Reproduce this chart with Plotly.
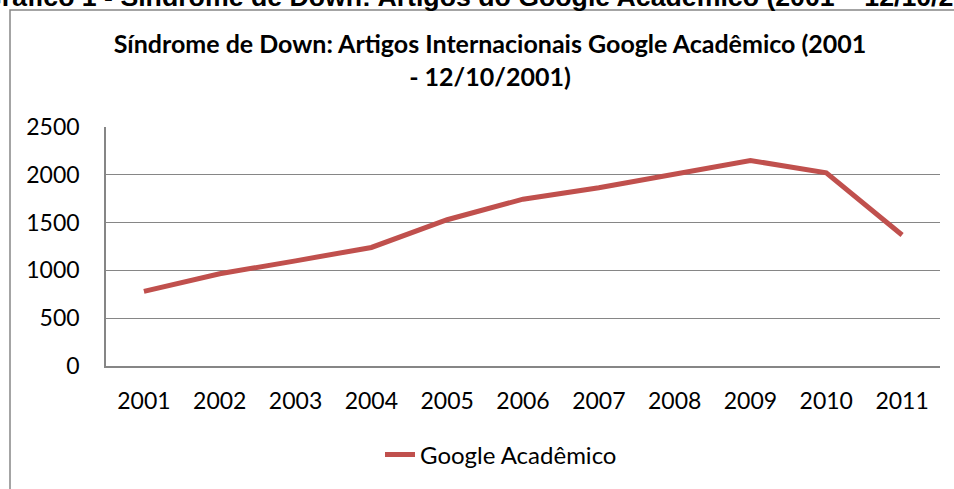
import plotly.graph_objects as go

years = ["2001", "2002", "2003", "2004", "2005", "2006", "2007", "2008", "2009", "2010", "2011"]
artigos = [780, 965, 1100, 1240, 1530, 1745, 1865, 2005, 2150, 2020, 1370]
y_ticks = [0, 500, 1000, 1500, 2000, 2500]

W, H = 954, 489
ML, MR, MT, MB = 106, 14, 127, 123
PW = W - ML - MR
PH = H - MT - MB

def px(x):
    return (x - ML) / PW

def py(y):
    return 1 - (y - MT) / PH

FONT = "Lato"
GRID = "#868686"

fig = go.Figure()
fig.add_trace(go.Scatter(
    x=years, y=artigos, mode="lines", name="Google Acadêmico",
    line=dict(color="#C0504D", width=5),
))

fig.update_layout(
    width=W, height=H,
    margin=dict(l=ML, r=MR, t=MT, b=MB),
    paper_bgcolor="white", plot_bgcolor="white",
    font=dict(family=FONT, size=23, color="black"),
    title=dict(
        text="<b>Síndrome de Down: Artigos Internacionais Google Acadêmico (2001<br>- 12/10/2001)</b>",
        x=490 / W, xref="container", xanchor="center",
        y=1 - 53 / H, yref="container", yanchor="top",
        font=dict(family=FONT, size=25, color="black"),
    ),
    xaxis=dict(
        type="category", range=[-0.5, 10.5],
        showgrid=False, showline=True, linecolor=GRID, linewidth=1.5,
        ticks="outside", ticklen=14, tickcolor="rgba(0,0,0,0)",
        tickfont=dict(family=FONT, size=23),
        zeroline=False,
    ),
    yaxis=dict(
        range=[0, 2500], tickvals=y_ticks,
        showgrid=True, gridcolor=GRID, gridwidth=1.3,
        showline=True, linecolor=GRID, linewidth=1.5,
        ticks="outside", ticklen=20, tickcolor="rgba(0,0,0,0)",
        tickfont=dict(family=FONT, size=23),
        zeroline=False,
    ),
    showlegend=True,
    legend=dict(
        orientation="h", x=px(380), xanchor="left",
        y=py(455), yanchor="middle",
        font=dict(family=FONT, size=24),
        bgcolor="rgba(0,0,0,0)",
    ),
)

# chart border (extends beyond the visible page on right and bottom)
fig.add_shape(type="rect", xref="paper", yref="paper",
              x0=px(10), x1=px(1000), y0=py(540), y1=py(10),
              line=dict(color=GRID, width=1.5), fillcolor="rgba(0,0,0,0)", layer="below")

# document caption above the chart, cut off by the page top
fig.add_annotation(
    text="<b>Gráfico 1 - Síndrome de Down: Artigos do Google Acadêmico (2001 – 12/10/2011)</b>",
    xref="paper", yref="paper", x=px(-21), y=py(14), xanchor="left", yanchor="bottom",
    showarrow=False, font=dict(family="Liberation Sans", size=26.7, color="black"),
)

fig.write_html(
    "out.html",
    config={"displayModeBar": False},
    post_script="document.body.style.margin='0';document.body.style.overflow='hidden';",
)
